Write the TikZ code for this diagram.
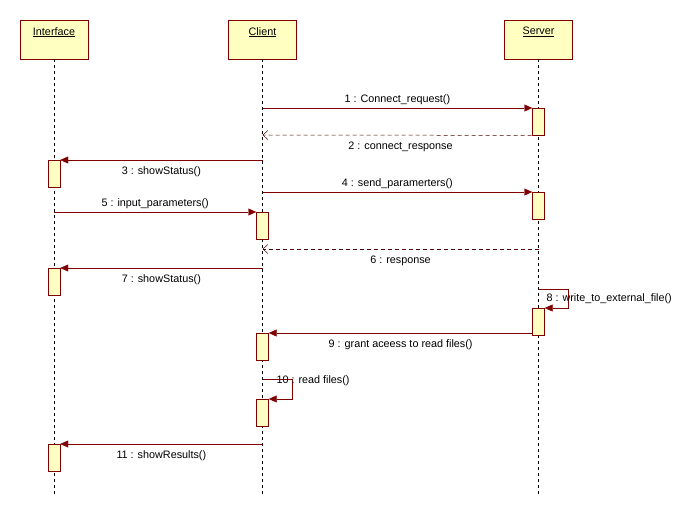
\documentclass[tikz,border=0pt]{standalone}
\usepackage{fontspec}
\setmainfont{Liberation Sans}
\usetikzlibrary{arrows.meta}
\definecolor{umlred}{RGB}{128,0,0}
\definecolor{umlfill}{RGB}{255,255,194}

\begin{document}
\begin{tikzpicture}[x=1pt,y=-1pt,font=\fontsize{10.8}{13}\selectfont,
  every node/.append style={text=black},
  head/.style={draw=umlred,fill=umlfill,minimum width=68pt,minimum height=39pt,inner sep=0pt},
  headtxt/.style={anchor=north,yshift=-4pt},
  act/.style={draw=umlred,fill=umlfill,minimum width=12pt,minimum height=27pt,inner sep=0pt,anchor=north},
  life/.style={black,dash pattern=on 3pt off 3pt},
  msg/.style={umlred,-{Triangle[length=8pt,width=7pt]}},
  ret/.style={umlred!60!black,line width=0.5pt,dash pattern=on 4pt off 3pt,-{Straight Barb[length=5pt,width=9pt]}},
  self/.style={umlred,-{Triangle[length=8pt,width=7pt]}},
  under/.style={below=3pt}]
  \useasboundingbox[fill=white] (0,0) rectangle (695,516);
  % lifeline heads
  \node[head] (ifc) at (54,39.5) {};
  \node[headtxt] (ifcT) at (ifc.north) {\underline{Interface}};
  \node[head] (cli) at (262.5,39.5) {};
  \node[headtxt] (cliT) at (cli.north) {\underline{Client}};
  \node[head] (srv) at (538.5,39.5) {};
  \node[headtxt] (srvT) at (srv.north) {\underline{Server}};
  \coordinate (ifcEnd) at (54,495);
  \coordinate (cliEnd) at (262.5,495);
  \coordinate (srvEnd) at (538.5,495);
  \draw[life] (ifc.south) -- (ifcEnd);
  \draw[life] (cli.south) -- (cliEnd);
  \draw[life] (srv.south) -- (srvEnd);
  % activations
  \node[act] (sa1) at (538.5,108) {};
  \node[act] (ia1) at (54,160) {};
  \node[act] (sa2) at (538.5,192) {};
  \node[act] (ca1) at (262.5,212) {};
  \node[act] (ia2) at (54,268) {};
  \node[act] (sa3) at (538.5,308) {};
  \node[act] (ca2) at (262.5,333) {};
  \node[act] (ca3) at (262.5,399) {};
  \node[act] (ia3) at (54,444) {};
  % message ends on the lifelines
  \coordinate (c1) at (262.5,108);
  \coordinate (c2) at (262.5,135);
  \coordinate (c3) at (262.5,160);
  \coordinate (c4) at (262.5,192);
  \coordinate (i5) at (54,212);
  \coordinate (s6) at (538.5,249);
  \coordinate (c6) at (262.5,249);
  \coordinate (c7) at (262.5,268);
  \coordinate (s8) at (538.5,289);
  \coordinate (s9) at (532.5,333);
  \coordinate (c10) at (262.5,379);
  \coordinate (c11) at (262.5,444);
  % messages
  \draw[msg] (c1) -- (sa1.north west) node[midway,above] {1 : Connect\_request()};
  \draw[ret] (sa1.south) -- (c2) node[midway,under] {2 : connect\_response};
  \draw[msg] (c3) -- (ia1.north east) node[midway,under] {3 : showStatus()};
  \draw[msg] (c4) -- (sa2.north west) node[midway,above] {4 : send\_paramerters()};
  \draw[msg] (i5) -- (ca1.north west) node[midway,above] {5 : input\_parameters()};
  \draw[ret] (s6) -- (c6) node[midway,under] {6 : response};
  \draw[msg] (c7) -- (ia2.north east) node[midway,under] {7 : showStatus()};
  \draw[self] (s8) -- ++(30,0) |- (sa3.north east);
  \node[anchor=west] (l8) at (543,299) {8 : write\_to\_external\_file()};
  \draw[msg] (s9) -- (ca2.north east) node[midway,under] {9 : grant aceess to read files()};
  \draw[self] (c10) -- ++(30,0) |- (ca3.north east);
  \node[anchor=west] (l10) at (273,381) {10 : read files()};
  \draw[msg] (c11) -- (ia3.north east) node[midway,under] {11 : showResults()};
\end{tikzpicture}
\end{document}
